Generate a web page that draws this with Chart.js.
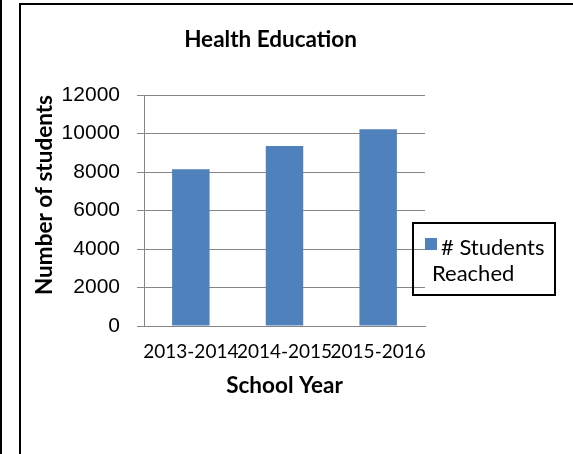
<!DOCTYPE html>
<html>
<head>
<meta charset="utf-8">
<script src="https://cdn.jsdelivr.net/npm/chart.js@4/dist/chart.umd.min.js"></script>
<style>
  body { margin: 0; background: #fff; }
  #wrap { position: relative; width: 573px; height: 454px; overflow: hidden; }
  #edge { position: absolute; left: 0; top: 0; width: 2px; height: 454px; background: #000; }
  #frame { position: absolute; left: 19px; top: 3px; width: 560px; height: 460px;
           border-top: 2px solid #000; border-left: 2px solid #000; }
  #chartBox { position: absolute; left: 0; top: 0; width: 541px; height: 454px; }
  #legend { position: absolute; left: 412px; top: 222px; width: 144px; height: 74px;
            border: 2px solid #000; box-sizing: border-box;
            font-family: Lato, sans-serif; font-size: 22px; line-height: 26px; color: #000; }
  #legend .sw { position: absolute; left: 11px; top: 14px; width: 12px; height: 12px; }
  #legend .l1 { position: absolute; left: 27px; top: 10px; white-space: nowrap; }
  #legend .l2 { position: absolute; left: 18px; top: 36px; white-space: nowrap; }
</style>
</head>
<body>
<div id="wrap">
  <div id="edge"></div>
  <div id="frame"></div>
  <div id="chartBox"><canvas id="myChart" width="541" height="454"></canvas></div>
  <div id="legend"></div>
</div>
<script>
// donnees
var categories = ['2013-2014', '2014-2015', '2015-2016'];
var studentsReached = [8140, 9350, 10220];
var seriesLabel = '# Students Reached';
var yMin = 0, yMax = 12000, yStep = 2000;

var barColor = '#4F81BD';
var gridColor = '#868686';

var ctx = document.getElementById('myChart');

var chart = new Chart(ctx, {
  type: 'bar',
  data: {
    labels: categories,
    datasets: [{
      label: seriesLabel,
      data: studentsReached,
      backgroundColor: barColor,
      borderWidth: 0,
      categoryPercentage: 1,
      barPercentage: 0.4
    }]
  },
  options: {
    responsive: false,
    animation: false,
    layout: { padding: 0 },
    plugins: {
      legend: { display: false },
      tooltip: { enabled: false },
      title: {
        display: true,
        text: 'Health Education',
        color: '#000',
        font: { family: 'Lato', size: 22.5, weight: 'bold' },
        padding: { top: 26, bottom: 42 }
      }
    },
    scales: {
      x: {
        grid: { display: false, drawTicks: false },
        border: { display: true, color: gridColor, width: 1 },
        ticks: {
          color: '#000',
          font: { family: 'Lato', size: 19 },
          padding: 14,
          maxRotation: 0,
          autoSkip: false
        },
        title: {
          display: true,
          text: 'School Year',
          color: '#000',
          font: { family: 'Lato', size: 22.5, weight: 'bold' },
          padding: { top: 0, bottom: 55 }
        },
        afterFit: function (scale) { scale.height = 128; }
      },
      y: {
        min: yMin,
        max: yMax,
        grid: { color: gridColor, lineWidth: 1, drawTicks: true, tickLength: 7 },
        border: { display: true, color: gridColor, width: 1 },
        ticks: {
          stepSize: yStep,
          color: '#000',
          font: { family: 'Liberation Sans', size: 21 },
          padding: 17,
          callback: function (v) { return String(v); }
        },
        title: {
          display: true,
          text: 'Number of students',
          align: 'end',
          color: '#000',
          font: { family: 'Lato', size: 22.5, weight: 'bold' },
          padding: { top: 31, bottom: 0 }
        },
        afterFit: function (scale) { scale.width = 144; }
      },
      // axe vide a droite : reserve la place de la legende
      yRight: {
        type: 'linear',
        position: 'right',
        display: true,
        grid: { display: false, drawTicks: false },
        border: { display: false },
        ticks: { display: false },
        afterFit: function (scale) { scale.width = 116; }
      }
    }
  }
});

// legende en html (boite a bord noir)
var legend = document.getElementById('legend');
var words = seriesLabel.split(' ');
var sw = document.createElement('span');
sw.className = 'sw';
sw.style.background = barColor;
legend.appendChild(sw);
var l1 = document.createElement('span');
l1.className = 'l1';
l1.textContent = words.slice(0, words.length - 1).join(' ');
legend.appendChild(l1);
var l2 = document.createElement('span');
l2.className = 'l2';
l2.textContent = words[words.length - 1];
legend.appendChild(l2);
</script>
</body>
</html>
